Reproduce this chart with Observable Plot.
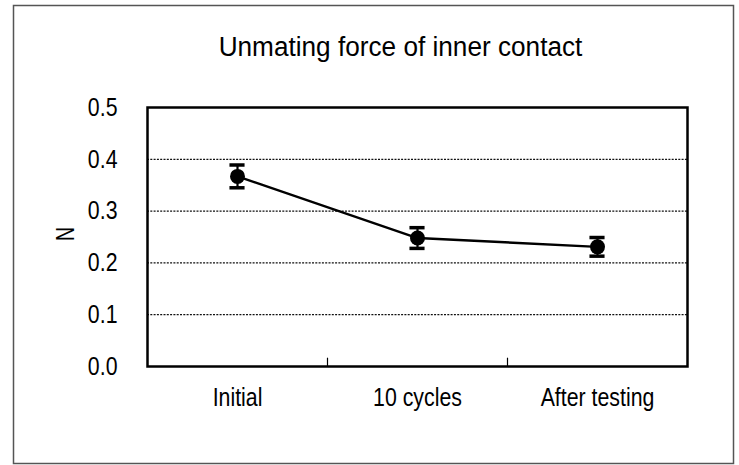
<!DOCTYPE html>
<html><head><meta charset="utf-8">
<script src="https://cdn.jsdelivr.net/npm/d3@7"></script>
<script src="https://cdn.jsdelivr.net/npm/@observablehq/plot@0.6"></script>
<style>body{margin:0;background:#fff;}</style>
</head><body><div id="chart"></div>
<script>
const categories = ["Initial", "10 cycles", "After testing"];
const values = [0.367, 0.248, 0.231];
const errors = [0.022, 0.020, 0.018];
const yTicks = [0, 0.1, 0.2, 0.3, 0.4, 0.5];
const gridValues = [0.1, 0.2, 0.3, 0.4];
const title = "Unmating force of inner contact";
const yLabel = "N";

const data = categories.map((c, i) => ({category: c, pos: i + 0.5, value: values[i], err: errors[i]}));
const capHalf = 0.042;

const plot = Plot.plot({
  width: 739, height: 465,
  marginLeft: 147, marginRight: 52, marginTop: 107, marginBottom: 99,
  style: {fontFamily: "'Liberation Sans', Arial, sans-serif", fontSize: "26px", color: "#000", background: "transparent"},
  x: {domain: [0, categories.length], ticks: data.map(d => d.pos), tickFormat: p => categories[Math.round(p - 0.5)], tickSize: 0, tickPadding: 21, label: null},
  y: {domain: [0, 0.5], ticks: yTicks, tickFormat: d3.format(".1f"), tickSize: 0, tickPadding: 30, label: null},
  marks: [
    Plot.ruleY(gridValues, {stroke: "#111", strokeWidth: 1.2, strokeDasharray: "2,1.3"}),
    Plot.frame({stroke: "#000", strokeWidth: 2.5}),
    Plot.ruleX(d3.range(1, categories.length), {y1: 0, y2: 0.016, stroke: "#000", strokeWidth: 1.2}),
    Plot.line(data, {x: "pos", y: "value", stroke: "#000", strokeWidth: 2.4}),
    Plot.ruleX(data, {x: "pos", y1: d => d.value - d.err, y2: d => d.value + d.err, stroke: "#000", strokeWidth: 2.2}),
    Plot.ruleY(data, {x1: d => d.pos - capHalf, x2: d => d.pos + capHalf, y: d => d.value + d.err, stroke: "#000", strokeWidth: 3.5}),
    Plot.ruleY(data, {x1: d => d.pos - capHalf, x2: d => d.pos + capHalf, y: d => d.value - d.err, stroke: "#000", strokeWidth: 3.5}),
    Plot.dot(data, {x: "pos", y: "value", r: 7.5, fill: "#000", stroke: "none"}),
    Plot.text([title], {text: d => d, frameAnchor: "top", dx: -17, dy: -52, lineAnchor: "bottom", fontSize: 27, fill: "#000"}),
    Plot.text([yLabel], {text: d => d, frameAnchor: "left", dx: -82, dy: 4, rotate: -90, fontSize: 26, fill: "#000"})
  ]
});

function squeeze(el, s) {
  const t = el.getAttribute("transform");
  if (t) {
    el.setAttribute("transform", t + ` scale(${s},1)`);
  } else {
    const x = +(el.getAttribute("x") || 0), y = +(el.getAttribute("y") || 0);
    el.setAttribute("transform", `translate(${x},${y}) scale(${s},1) translate(${-x},${-y})`);
  }
}
plot.querySelectorAll('g[aria-label="x-axis tick label"] text, g[aria-label="y-axis tick label"] text').forEach(el => squeeze(el, 0.82));
plot.querySelectorAll('g[aria-label="text"] text').forEach(el => {
  squeeze(el, el.textContent === title ? 0.97 : 0.75);
});

d3.select(plot).append("rect")
  .attr("x", 13.5).attr("y", 5.5).attr("width", 720).attr("height", 458)
  .attr("fill", "none").attr("stroke", "#555").attr("stroke-width", 1.5);

document.getElementById("chart").appendChild(plot);
</script>
</body></html>
